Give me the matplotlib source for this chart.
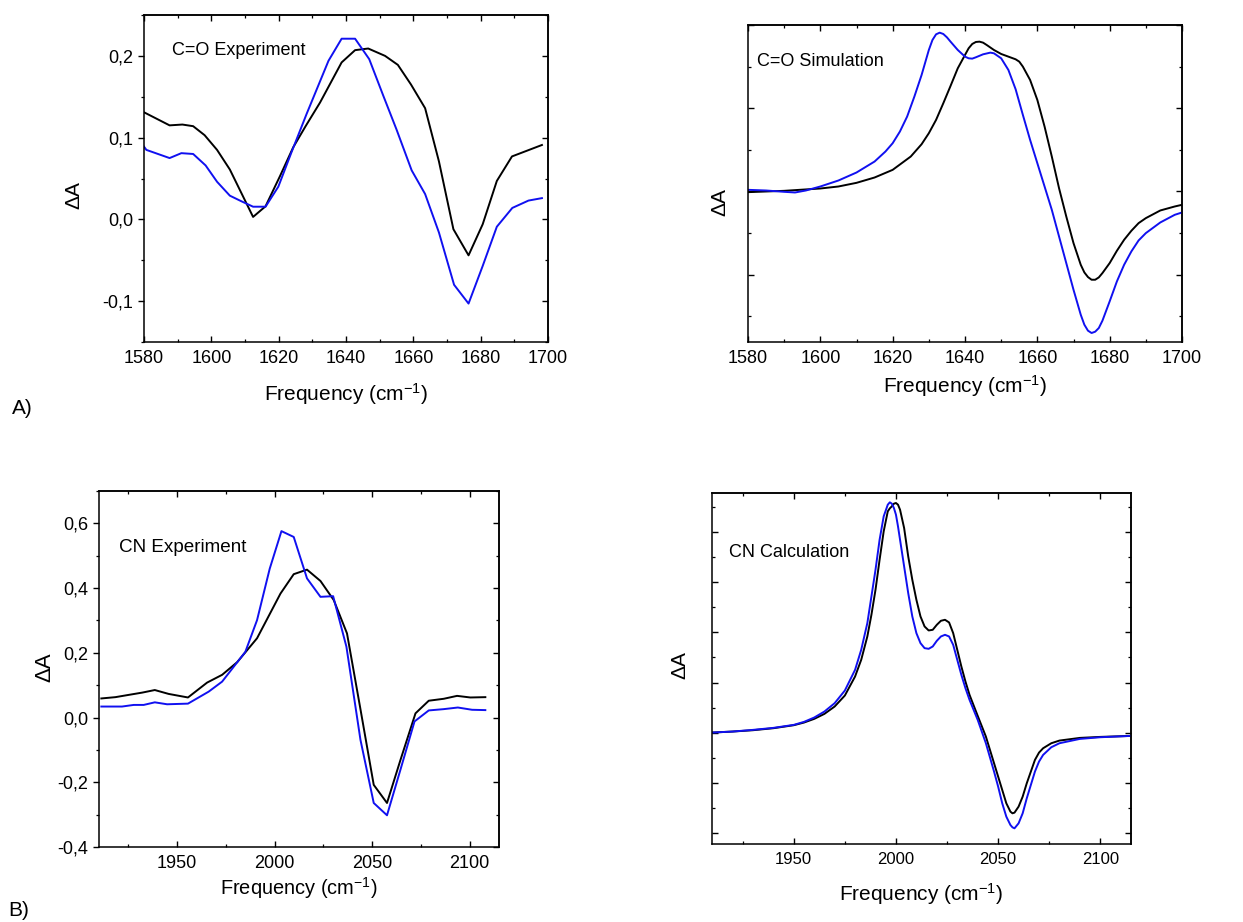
import matplotlib
matplotlib.use("Agg")
import matplotlib.pyplot as plt
from matplotlib import font_manager
from matplotlib.ticker import MultipleLocator, FixedLocator, FixedFormatter

plt.rcParams['font.family'] = ['Liberation Sans', 'DejaVu Sans']
plt.rcParams['mathtext.fontset'] = 'custom'
plt.rcParams['mathtext.rm'] = 'Liberation Sans'
plt.rcParams['mathtext.it'] = 'Liberation Sans'

_names = {f.name for f in font_manager.fontManager.ttflist}
NARROW = 'Liberation Sans Narrow' if 'Liberation Sans Narrow' in _names else 'Liberation Sans'
NARROW_SCALE = 1.0 if NARROW == 'Liberation Sans Narrow' else 0.85

# ---------------- Data ----------------
# A) C=O experiment
co_exp_black_x = [1580, 1587.6, 1591.4, 1594.6, 1598, 1601.7, 1605.5, 1612.4, 1616.1, 1620.4,
                  1624.3, 1628, 1632.3, 1638.7, 1642.7, 1646.6, 1651.6, 1655.4, 1659.3, 1663.5,
                  1667.6, 1671.9, 1676.4, 1680.6, 1684.8, 1689.3, 1698.2]
co_exp_black_y = [0.131, 0.115, 0.116, 0.114, 0.103, 0.085, 0.061, 0.003, 0.016, 0.053,
                  0.088, 0.114, 0.143, 0.192, 0.207, 0.209, 0.200, 0.189, 0.165, 0.136,
                  0.071, -0.012, -0.044, -0.006, 0.047, 0.077, 0.091]
co_exp_blue_x = [1580, 1580.7, 1587.6, 1591.1, 1594.6, 1598.3, 1601.7, 1605.5, 1609, 1612.4,
                 1616.1, 1619.9, 1623.8, 1628.3, 1634.8, 1638.7, 1642.7, 1646.9, 1651.1, 1655,
                 1659.5, 1663.5, 1667.6, 1672.1, 1676.4, 1680.6, 1684.8, 1689.4, 1694.2, 1698.2]
co_exp_blue_y = [0.089, 0.085, 0.075, 0.081, 0.080, 0.066, 0.046, 0.029, 0.022, 0.0155,
                 0.0155, 0.040, 0.082, 0.129, 0.194, 0.221, 0.221, 0.196, 0.151, 0.110,
                 0.060, 0.031, -0.016, -0.080, -0.103, -0.057, -0.009, 0.014, 0.023, 0.026]

# A) C=O simulation (arbitrary units)
co_sim_black_x = [1580, 1590, 1600, 1605, 1610, 1615, 1620, 1625, 1628, 1630, 1632, 1634, 1636,
                  1638, 1640, 1641, 1642, 1643, 1644, 1645, 1646, 1648, 1650, 1652, 1654, 1655,
                  1656, 1658, 1660, 1662, 1664, 1666, 1668, 1670, 1672, 1673, 1674, 1675, 1676,
                  1677, 1678, 1680, 1682, 1684, 1686, 1688, 1690, 1694, 1698, 1700]
co_sim_black_y = [-0.002, 0.002, 0.009, 0.015, 0.026, 0.042, 0.065, 0.105, 0.142, 0.175, 0.215,
                  0.265, 0.317, 0.370, 0.410, 0.430, 0.443, 0.449, 0.450, 0.447, 0.440, 0.425,
                  0.413, 0.405, 0.397, 0.390, 0.375, 0.335, 0.275, 0.195, 0.105, 0.010, -0.075,
                  -0.155, -0.220, -0.243, -0.257, -0.265, -0.265, -0.258, -0.245, -0.215, -0.178,
                  -0.145, -0.118, -0.095, -0.080, -0.057, -0.045, -0.040]
co_sim_blue_x = [1580, 1585, 1590, 1593, 1596, 1600, 1605, 1610, 1615, 1618, 1620, 1622, 1624,
                 1626, 1628, 1630, 1631, 1632, 1633, 1634, 1635, 1636, 1638, 1640, 1641, 1642,
                 1643, 1645, 1647, 1648, 1650, 1652, 1654, 1656, 1658, 1660, 1662, 1664, 1666,
                 1668, 1670, 1672, 1673, 1674, 1675, 1676, 1677, 1678, 1680, 1682, 1684, 1686,
                 1688, 1690, 1694, 1698, 1700]
co_sim_blue_y = [0.005, 0.003, -0.001, -0.003, 0.003, 0.015, 0.033, 0.057, 0.090, 0.120, 0.145,
                 0.180, 0.225, 0.285, 0.350, 0.425, 0.455, 0.472, 0.477, 0.473, 0.463, 0.450,
                 0.425, 0.405, 0.400, 0.399, 0.403, 0.412, 0.417, 0.415, 0.400, 0.365, 0.307,
                 0.230, 0.155, 0.085, 0.015, -0.055, -0.135, -0.215, -0.295, -0.370, -0.400,
                 -0.418, -0.425, -0.421, -0.410, -0.388, -0.330, -0.270, -0.220, -0.180, -0.147,
                 -0.125, -0.093, -0.070, -0.063]

# B) CN experiment
cn_exp_black_x = [1911.2, 1918.4, 1925.2, 1932.1, 1938.6, 1945.7, 1955.6, 1965.4, 1973.1, 1980.8,
                  1991.0, 2003.0, 2009.8, 2016.6, 2023.5, 2030.3, 2037.1, 2043.9, 2050.8, 2057.6,
                  2064.5, 2072.2, 2079.0, 2086.7, 2093.5, 2100.3, 2108.0]
cn_exp_black_y = [0.059, 0.063, 0.070, 0.077, 0.085, 0.073, 0.062, 0.108, 0.132, 0.171,
                  0.245, 0.383, 0.443, 0.457, 0.422, 0.363, 0.260, 0.029, -0.208, -0.264,
                  -0.131, 0.013, 0.052, 0.058, 0.067, 0.062, 0.063]
cn_exp_blue_x = [1911.2, 1921.8, 1927.8, 1932.9, 1938.6, 1944.9, 1955.6, 1966.2, 1973.1, 1985.0,
                 1991.0, 1997.5, 2003.5, 2009.8, 2016.6, 2023.5, 2030.0, 2036.8, 2044.0, 2050.8,
                 2057.6, 2064.5, 2071.7, 2079.0, 2086.7, 2093.9, 2101.2, 2108.0]
cn_exp_blue_y = [0.034, 0.034, 0.039, 0.039, 0.047, 0.041, 0.043, 0.080, 0.111, 0.203,
                 0.301, 0.460, 0.576, 0.558, 0.430, 0.373, 0.375, 0.219, -0.069, -0.264,
                 -0.302, -0.161, -0.012, 0.022, 0.026, 0.031, 0.024, 0.023]

# B) CN calculation (arbitrary units)
cn_calc_x = [1910, 1920, 1930, 1940, 1950, 1955, 1960, 1965, 1970, 1975, 1980, 1983, 1986, 1988,
             1990, 1992, 1994, 1996, 1997, 1998, 1999, 2000, 2001, 2002, 2004, 2006, 2008, 2010,
             2012, 2014, 2016, 2018, 2020, 2022, 2024, 2026, 2028, 2030, 2032, 2034, 2036, 2040,
             2044, 2048, 2050, 2052, 2054, 2056, 2057, 2058, 2060, 2062, 2064, 2066, 2068, 2070,
             2072, 2076, 2080, 2090, 2100, 2115]
cn_calc_black_y = [0.000, 0.003, 0.007, 0.013, 0.022, 0.030, 0.041, 0.056, 0.078, 0.111, 0.168,
                   0.218, 0.288, 0.353, 0.428, 0.518, 0.603, 0.663, 0.672, 0.678, 0.686, 0.688,
                   0.683, 0.668, 0.613, 0.528, 0.458, 0.398, 0.348, 0.318, 0.306, 0.308, 0.323,
                   0.335, 0.338, 0.330, 0.298, 0.248, 0.198, 0.153, 0.113, 0.050, -0.012, -0.092,
                   -0.132, -0.172, -0.212, -0.237, -0.242, -0.240, -0.222, -0.192, -0.152, -0.117,
                   -0.082, -0.060, -0.047, -0.032, -0.024, -0.016, -0.013, -0.010]
cn_calc_blue_y = [0.000, 0.003, 0.008, 0.014, 0.023, 0.032, 0.045, 0.063, 0.088, 0.126, 0.188,
                  0.248, 0.328, 0.408, 0.488, 0.578, 0.648, 0.683, 0.690, 0.686, 0.673, 0.653,
                  0.618, 0.578, 0.498, 0.418, 0.348, 0.298, 0.268, 0.253, 0.251, 0.258, 0.275,
                  0.288, 0.293, 0.288, 0.263, 0.218, 0.173, 0.133, 0.098, 0.038, -0.032, -0.117,
                  -0.162, -0.212, -0.252, -0.277, -0.284, -0.287, -0.272, -0.242, -0.197, -0.157,
                  -0.117, -0.087, -0.067, -0.044, -0.032, -0.019, -0.014, -0.010]

co_exp_yticks = [-0.1, 0.0, 0.1, 0.2]
co_exp_yticklabels = ['-0,1', '0,0', '0,1', '0,2']
cn_exp_yticks = [-0.4, -0.2, 0.0, 0.2, 0.4, 0.6]
cn_exp_yticklabels = ['-0,4', '-0,2', '0,0', '0,2', '0,4', '0,6']
co_xticks = [1580, 1600, 1620, 1640, 1660, 1680, 1700]
cn_xticks = [1950, 2000, 2050, 2100]

panel_titles = ['C=O Experiment', 'C=O Simulation', 'CN Experiment', 'CN Calculation']
xlabel = 'Frequency (cm$^{-1}$)'
ylabel = '\u0394A'

BLUE = '#1010f0'
BLACK = '#000000'

W, H = 1243, 922
fig = plt.figure(figsize=(W / 100, H / 100), dpi=100)


def px_axes(x0, y0, x1, y1):
    return fig.add_axes([x0 / W, 1 - y1 / H, (x1 - x0) / W, (y1 - y0) / H])


def style(ax, left_out, xmaj, xmin, ymin, tick_fs):
    for s in ax.spines.values():
        s.set_linewidth(1.1)
    ax.xaxis.set_major_locator(FixedLocator(xmaj))
    ax.xaxis.set_minor_locator(MultipleLocator(xmin))
    ax.yaxis.set_minor_locator(MultipleLocator(ymin))
    ax.tick_params(axis='x', which='both', direction='in', top=False, bottom=True,
                   labelsize=tick_fs, pad=6)
    ax.tick_params(axis='x', which='major', length=4, width=1.0)
    ax.tick_params(axis='x', which='minor', length=2.5, width=0.9)
    ax.tick_params(axis='y', which='both', direction='out' if left_out else 'in',
                   right=False, left=True, labelsize=tick_fs, pad=4)
    ax.tick_params(axis='y', which='major', length=4, width=1.0)
    ax.tick_params(axis='y', which='minor', length=2.5, width=0.9)
    # top and right inward ticks
    sx = ax.secondary_xaxis('top')
    sx.xaxis.set_major_locator(FixedLocator(xmaj))
    sx.xaxis.set_minor_locator(MultipleLocator(xmin))
    sx.tick_params(axis='x', which='both', direction='in', labeltop=False)
    sx.tick_params(which='major', length=4, width=1.0)
    sx.tick_params(which='minor', length=2.5, width=0.9)
    sx.spines['top'].set_linewidth(1.1)
    sy = ax.secondary_yaxis('right')
    sy.yaxis.set_major_locator(ax.yaxis.get_major_locator())
    sy.yaxis.set_minor_locator(MultipleLocator(ymin))
    sy.tick_params(axis='y', which='both', direction='in', labelright=False)
    sy.tick_params(which='major', length=4, width=1.0)
    sy.tick_params(which='minor', length=2.5, width=0.9)
    sy.spines['right'].set_linewidth(1.1)


LW = 1.4

# ---- A left: C=O Experiment ----
ax1 = px_axes(144, 15, 548, 342)
ax1.plot(co_exp_black_x, co_exp_black_y, color=BLACK, lw=LW)
ax1.plot(co_exp_blue_x, co_exp_blue_y, color=BLUE, lw=LW)
ax1.set_xlim(1580, 1700)
ax1.set_ylim(-0.15, 0.25)
ax1.yaxis.set_major_locator(FixedLocator(co_exp_yticks))
ax1.yaxis.set_major_formatter(FixedFormatter(co_exp_yticklabels))
style(ax1, True, co_xticks, 10, 0.05, 13)
ax1.set_xlabel(xlabel, fontsize=15, labelpad=10)
ax1.set_ylabel(ylabel, fontsize=15)
ax1.yaxis.set_label_coords(-0.15, 0.45)
ax1.text(0.07, 0.89, panel_titles[0], transform=ax1.transAxes, fontsize=13, va='center')

# ---- A right: C=O Simulation ----
ax2 = px_axes(748, 25, 1182, 342)
ax2.plot(co_sim_black_x, co_sim_black_y, color=BLACK, lw=LW)
ax2.plot(co_sim_blue_x, co_sim_blue_y, color=BLUE, lw=LW)
ax2.set_xlim(1580, 1700)
ax2.set_ylim(-0.452, 0.5)
ax2.yaxis.set_major_locator(MultipleLocator(0.25))
style(ax2, False, co_xticks, 10, 0.125, 13)
ax2.tick_params(axis='y', labelleft=False)
ax2.set_xlabel(xlabel, fontsize=15, labelpad=4)
ax2.set_ylabel(ylabel, fontsize=15)
ax2.yaxis.set_label_coords(-0.044, 0.44)
ax2.text(0.02, 0.885, panel_titles[1], transform=ax2.transAxes, fontsize=13, va='center')

# ---- B left: CN Experiment ----
ax3 = px_axes(99, 491, 499, 847)
ax3.plot(cn_exp_black_x, cn_exp_black_y, color=BLACK, lw=LW)
ax3.plot(cn_exp_blue_x, cn_exp_blue_y, color=BLUE, lw=LW)
ax3.set_xlim(1910, 2115)
ax3.set_ylim(-0.4, 0.7)
ax3.yaxis.set_major_locator(FixedLocator(cn_exp_yticks))
ax3.yaxis.set_major_formatter(FixedFormatter(cn_exp_yticklabels))
style(ax3, True, cn_xticks, 25, 0.1, 13)
ax3.set_xlabel(xlabel, fontsize=17 * NARROW_SCALE, family=NARROW, labelpad=2)
ax3.set_ylabel(ylabel, fontsize=16)
ax3.yaxis.set_label_coords(-0.11, 0.506)
ax3.text(0.05, 0.84, panel_titles[2], transform=ax3.transAxes,
         fontsize=16 * NARROW_SCALE, family=NARROW, va='center')

# ---- B right: CN Calculation ----
ax4 = px_axes(712, 493, 1131, 844)
ax4.plot(cn_calc_x, cn_calc_black_y, color=BLACK, lw=LW)
ax4.plot(cn_calc_x, cn_calc_blue_y, color=BLUE, lw=LW)
ax4.set_xlim(1910, 2115)
ax4.set_ylim(-0.334, 0.718)
ax4.yaxis.set_major_locator(MultipleLocator(0.15))
style(ax4, False, cn_xticks, 25, 0.075, 12)
ax4.tick_params(axis='y', labelleft=False)
ax4.set_xlabel(xlabel, fontsize=15, labelpad=10)
ax4.set_ylabel(ylabel, fontsize=15)
ax4.yaxis.set_label_coords(-0.053, 0.51)
ax4.text(0.04, 0.83, panel_titles[3], transform=ax4.transAxes, fontsize=13, va='center')

fig.text(12 / W, 1 - 408 / H, 'A)', fontsize=15, va='center', ha='left')
fig.text(8 / W, 1 - 910 / H, 'B)', fontsize=15, va='center', ha='left')

fig.savefig('out.png', dpi=100)
